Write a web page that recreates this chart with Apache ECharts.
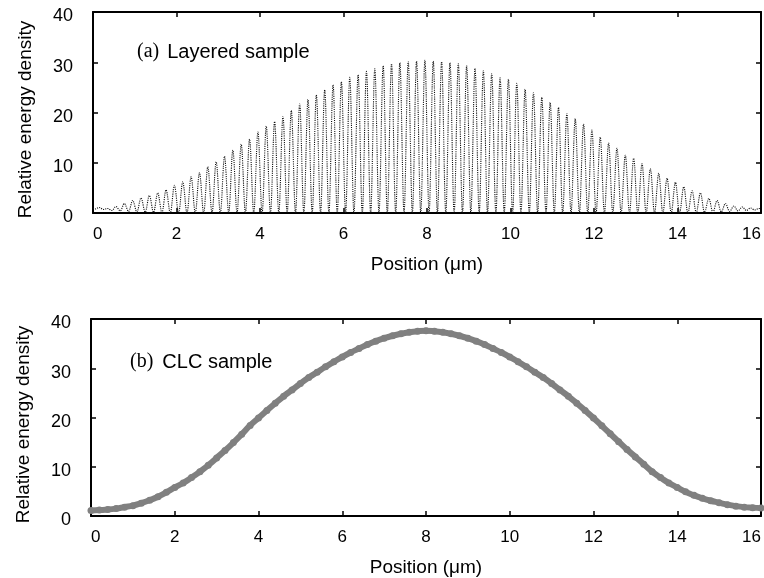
<!DOCTYPE html>
<html>
<head>
<meta charset="utf-8">
<script src="https://cdn.jsdelivr.net/npm/echarts@6/dist/echarts.min.js"></script>
<style>
  html, body { margin: 0; padding: 0; background: #fff; }
  #chart { width: 764px; height: 578px; }
</style>
</head>
<body>
<div id="chart"></div>
<script>
// Axis ticks (µm and relative units)
const positionTicks = [0, 2, 4, 6, 8, 10, 12, 14, 16];
const densityTicks = [0, 10, 20, 30, 40];

// (a) Layered sample: standing-wave pattern, one trough and one peak per layer period
const layerPeriod = 0.2;
const layerFirstTrough = 0.05;
const layerStart = [0, 1.0];
const layerEnd = [16, 0.9];
const layerTroughs = [
  0.8, 0.7, 0.5, 0.4, 0.3, 0.2, 0.15, 0.1, 0.05, 0,
  0, 0, 0, 0, 0, 0, 0, 0, 0, 0,
  0, 0, 0, 0, 0, 0, 0, 0, 0, 0,
  0, 0, 0, 0, 0, 0, 0, 0, 0, 0,
  0, 0, 0, 0, 0, 0, 0, 0, 0, 0,
  0, 0, 0, 0, 0, 0, 0, 0, 0, 0,
  0, 0, 0, 0, 0, 0, 0, 0, 0, 0,
  0, 0, 0.05, 0.1, 0.15, 0.2, 0.3, 0.4, 0.5, 0.6
];
const layerPeaks = [
  1.1, 0.9, 1.3, 1.9, 2.5, 3.0, 3.5, 4.0, 4.6, 5.5,
  6.2, 7.2, 8.0, 9.2, 10.2, 11.3, 12.5, 13.7, 14.7, 16.1,
  17.3, 18.2, 19.2, 20.4, 21.7, 22.6, 23.5, 24.5, 25.5, 26.1,
  27.0, 27.5, 28.2, 28.7, 29.3, 29.7, 29.9, 30.1, 30.2, 30.4,
  30.2, 30.1, 29.9, 29.7, 29.3, 28.8, 28.3, 27.7, 26.9, 26.6,
  25.8, 24.6, 23.9, 23.0, 22.0, 21.0, 19.8, 18.8, 17.7, 16.5,
  15.1, 13.9, 12.9, 11.5, 10.9, 9.8, 8.8, 7.9, 6.9, 6.1,
  5.2, 4.4, 4.0, 2.9, 2.5, 1.9, 1.4, 1.2, 1.0, 0.9
];

// (b) CLC sample: smooth envelope sampled every 0.2 µm
const clcStep = 0.2;
const clcDensity = [
  1.1, 1.2, 1.3, 1.5, 1.8, 2.1, 2.6, 3.2, 3.9, 4.8,
  5.8, 6.7, 7.8, 9.0, 10.3, 11.8, 13.3, 14.9, 16.6, 18.4,
  19.9, 21.4, 22.9, 24.3, 25.6, 26.9, 28.1, 29.2, 30.3, 31.3,
  32.3, 33.2, 34.0, 34.8, 35.5, 36.1, 36.6, 37.0, 37.3, 37.5,
  37.6, 37.5, 37.3, 37.0, 36.6, 36.1, 35.5, 34.8, 34.0, 33.2,
  32.3, 31.3, 30.3, 29.2, 28.1, 26.9, 25.6, 24.3, 22.9, 21.4,
  19.9, 18.3, 16.7, 15.1, 13.5, 12.0, 10.5, 9.0, 7.8, 6.7,
  5.8, 4.9, 4.2, 3.6, 3.1, 2.7, 2.3, 2.0, 1.8, 1.7,
  1.6
];

const round3 = v => Math.round(v * 1000) / 1000;

const layeredData = [layerStart];
layerTroughs.forEach((t, i) => {
  layeredData.push([round3(layerFirstTrough + i * layerPeriod), t]);
  layeredData.push([round3(layerFirstTrough + (i + 0.5) * layerPeriod), layerPeaks[i]]);
});
layeredData.push(layerEnd);

const clcData = clcDensity.map((v, i) => [round3(i * clcStep), v]);

const SANS = 'Liberation Sans, Arial, Helvetica, sans-serif';
const SERIF = 'Liberation Serif, Times New Roman, serif';

const lineBlack = { color: '#000', width: 2 };
const tickStyle = { show: true, inside: true, length: 5, lineStyle: { color: '#000', width: 1.5 } };

function xAxes(gridIndex, labelMargin) {
  const base = {
    type: 'value', gridIndex,
    min: positionTicks[0], max: positionTicks[positionTicks.length - 1],
    interval: positionTicks[1] - positionTicks[0],
    axisLine: { show: true, onZero: false, lineStyle: lineBlack },
    axisTick: tickStyle,
    splitLine: { show: false }
  };
  return [
    Object.assign({}, base, {
      position: 'bottom',
      axisLabel: {
        margin: labelMargin, fontSize: 17, color: '#000', fontFamily: SANS,
        alignMinLabel: 'left', alignMaxLabel: 'right'
      },
      name: 'Position (μm)', nameLocation: 'middle', nameGap: 42,
      nameTextStyle: { fontSize: 19, color: '#000', fontFamily: SANS }
    }),
    Object.assign({}, base, { position: 'top', axisLabel: { show: false } })
  ];
}

function yAxes(gridIndex) {
  const base = {
    type: 'value', gridIndex,
    min: densityTicks[0], max: densityTicks[densityTicks.length - 1],
    interval: densityTicks[1] - densityTicks[0],
    axisLine: { show: true, onZero: false, lineStyle: lineBlack },
    axisTick: tickStyle,
    splitLine: { show: false }
  };
  return [
    Object.assign({}, base, {
      position: 'left',
      axisLabel: {
        margin: 20, fontSize: 18, color: '#000', fontFamily: SANS,
        verticalAlign: 'top', lineHeight: 9
      },
      name: 'Relative energy density', nameLocation: 'middle', nameGap: 58, nameRotate: 90,
      nameTextStyle: { fontSize: 19, color: '#000', fontFamily: SANS, padding: [0, 14, 0, 0] }
    }),
    Object.assign({}, base, { position: 'right', axisLabel: { show: false } })
  ];
}

const chart = echarts.init(document.getElementById('chart'), null, { renderer: 'canvas' });

chart.setOption({
  backgroundColor: '#fff',
  animation: false,
  grid: [
    { left: 93, top: 12, width: 668, height: 201 },
    { left: 91, top: 319, width: 672, height: 203 }
  ],
  xAxis: [...xAxes(0, 13), ...xAxes(1, 13)],
  yAxis: [...yAxes(0), ...yAxes(1)],
  series: [
    {
      name: 'Layered sample', type: 'line',
      xAxisIndex: 0, yAxisIndex: 0,
      data: layeredData,
      smooth: 0.35,
      showSymbol: false,
      lineStyle: { color: '#111', width: 1.1, type: 'dotted' }
    },
    {
      name: 'CLC sample', type: 'line',
      xAxisIndex: 2, yAxisIndex: 2,
      data: clcData,
      smooth: true,
      showSymbol: true, showAllSymbol: true,
      symbol: 'circle', symbolSize: 7,
      itemStyle: { color: '#808080', borderWidth: 0 },
      lineStyle: { color: '#808080', width: 6 }
    }
  ],
  graphic: [
    {
      type: 'text', left: 137, top: 42,
      style: {
        text: '{s|(a)}{t|Layered sample}',
        rich: {
          s: { fontFamily: SERIF, fontSize: 20, fill: '#000', padding: [0, 8, 0, 0] },
          t: { fontFamily: SANS, fontSize: 20, fill: '#000' }
        }
      }
    },
    {
      type: 'text', left: 130, top: 352,
      style: {
        text: '{s|(b)}{t|CLC sample}',
        rich: {
          s: { fontFamily: SERIF, fontSize: 20, fill: '#000', padding: [0, 9, 0, 0] },
          t: { fontFamily: SANS, fontSize: 20, fill: '#000' }
        }
      }
    }
  ]
});
</script>
</body>
</html>
